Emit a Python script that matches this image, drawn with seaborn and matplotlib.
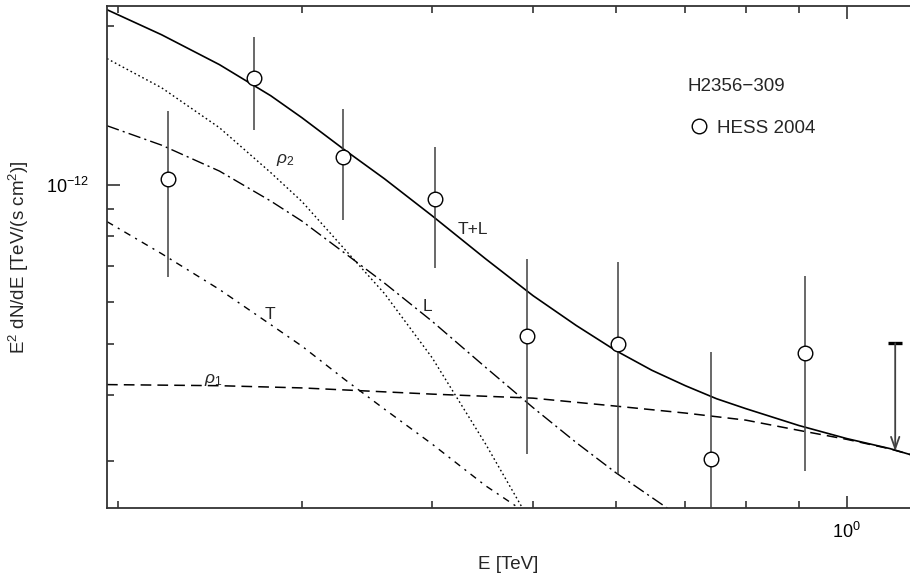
import numpy as np
import matplotlib
matplotlib.use("Agg")
import matplotlib.pyplot as plt
import seaborn as sns
from matplotlib.ticker import NullFormatter, LogLocator
from matplotlib.lines import Line2D

# HESS 2004 data, flux in units of 1e-12 TeV/(s cm^2)
hess_energy = [0.2230, 0.2699, 0.3288, 0.4029, 0.4938, 0.6036, 0.7414, 0.9114]
hess_flux = [1.026, 1.593, 1.127, 0.9395, 0.5169, 0.4993, 0.3028, 0.4791]
hess_flux_hi = [1.377, 1.905, 1.391, 1.177, 0.7233, 0.7140, 0.4821, 0.6706]
hess_flux_lo = [0.6675, 1.271, 0.858, 0.6955, 0.3094, 0.2832, 0.20, 0.2873]

# upper limit
ul_energy = [1.113]
ul_flux = [0.5006]
ul_tip = [0.3126]

# model curves
total_energy = [0.195, 0.22, 0.25, 0.28, 0.30, 0.33, 0.36, 0.40, 0.45, 0.50,
                0.55, 0.60, 0.65, 0.70, 0.75, 0.80, 0.90, 1.00, 1.10, 1.15]
total_flux = [2.145, 1.923, 1.688, 1.474, 1.339, 1.162, 1.026, 0.873, 0.724, 0.616,
              0.541, 0.485, 0.445, 0.416, 0.393, 0.3764, 0.3496, 0.3303, 0.3162, 0.3081]

rho1_energy = [0.195, 0.25, 0.30, 0.40, 0.50, 0.60, 0.70, 0.80, 0.90, 1.00, 1.10, 1.15]
rho1_flux = [0.418, 0.416, 0.412, 0.401, 0.394, 0.3806, 0.3692, 0.358, 0.3423, 0.3292, 0.3159, 0.3081]

rho2_energy = [0.195, 0.22, 0.25, 0.28, 0.30, 0.33, 0.36, 0.40, 0.45, 0.50]
rho2_flux = [1.733, 1.526, 1.282, 1.054, 0.929, 0.753, 0.622, 0.470, 0.323, 0.225]

L_energy = [0.195, 0.22, 0.25, 0.28, 0.30, 0.33, 0.36, 0.40, 0.45, 0.50, 0.55, 0.60, 0.70]
L_flux = [1.293, 1.188, 1.061, 0.931, 0.853, 0.741, 0.651, 0.551, 0.451, 0.378, 0.3246, 0.2848, 0.231]

T_energy = [0.195, 0.22, 0.25, 0.28, 0.30, 0.33, 0.36, 0.40, 0.45, 0.50]
T_flux = [0.851, 0.740, 0.633, 0.543, 0.4944, 0.427, 0.3756, 0.3225, 0.269, 0.234]

# curve labels: text, energy, flux
curve_labels = [
    (r'$\rho_2$', 0.289, 1.115),
    ('T+L', 0.438, 0.822),
    ('L', 0.396, 0.587),
    ('T', 0.2797, 0.567),
    (r'$\rho_1$', 0.2465, 0.427),
]

scale = 1e-12

sns.set_theme(style="ticks")
plt.rcParams['font.family'] = ['Liberation Sans', 'DejaVu Sans']
plt.rcParams['mathtext.fontset'] = 'custom'
plt.rcParams['mathtext.rm'] = 'Liberation Sans'
plt.rcParams['mathtext.it'] = 'Liberation Sans:italic'
plt.rcParams['mathtext.bf'] = 'Liberation Sans:bold'

fig = plt.figure(figsize=(9.1, 5.75), dpi=100)
ax = fig.add_axes([107 / 910, 67 / 575, 803 / 910, 502 / 575])
ax.set_xscale('log')
ax.set_yscale('log')

curves = [
    (total_energy, total_flux, '-', 1.2),
    (rho1_energy, rho1_flux, (0, (7, 4)), 1.1),
    (rho2_energy, rho2_flux, (0, (1.2, 2)), 1.0),
    (L_energy, L_flux, (0, (9, 3, 1.5, 3)), 1.0),
    (T_energy, T_flux, (0, (5, 4, 1.5, 4)), 1.0),
]
for xs, ys, ls, lw in curves:
    sns.lineplot(x=xs, y=np.array(ys) * scale, ax=ax, color='black',
                 linestyle=ls, linewidth=lw, sort=False, estimator=None)

flux = np.array(hess_flux)
yerr = [(flux - np.array(hess_flux_lo)) * scale, (np.array(hess_flux_hi) - flux) * scale]
ax.errorbar(hess_energy, flux * scale, yerr=yerr, fmt='o', ms=10.5, mfc='white',
            mec='black', mew=1.0, ecolor='#404040', elinewidth=1.1, capsize=0, zorder=5)

# upper limit
ax.annotate('', xy=(ul_energy[0], ul_tip[0] * scale), xytext=(ul_energy[0], ul_flux[0] * scale),
            arrowprops=dict(arrowstyle='->,head_length=0.7,head_width=0.25', color='#404040',
                            lw=1.3, shrinkA=0, shrinkB=0))
ax.plot(ul_energy, np.array(ul_flux) * scale, marker='_', ms=10, mew=2.4, color='black', ls='none')

for txt, ex, fx in curve_labels:
    ax.text(ex, fx * scale, txt, ha='center', va='center', fontsize=12.5)

handle = Line2D([], [], marker='o', ls='none', ms=10.5, mfc='white', mec='black', mew=1.0)
leg = ax.legend(handles=[handle], labels=['HESS 2004'], title='H2356\u2212309', alignment='left',
                frameon=False, loc='upper left', bbox_to_anchor=(0.7235, 0.856),
                fontsize=13.5, title_fontsize=13.5, borderpad=0, borderaxespad=0,
                handlelength=1.15, handletextpad=0.4, labelspacing=1.3)

ax.set_xticks([1.0])
ax.set_yticks([1e-12])
ax.xaxis.set_minor_locator(LogLocator(base=10, subs=np.arange(2, 10)))
ax.yaxis.set_minor_locator(LogLocator(base=10, subs=np.arange(2, 10)))
ax.xaxis.set_minor_formatter(NullFormatter())
ax.yaxis.set_minor_formatter(NullFormatter())
ax.set_xlim(0.195, 1.15)
ax.set_ylim(2.44e-13, 2.18e-12)

ax.tick_params(which='both', direction='in', top=True, right=False, color='#333333', width=1.2,
               labelsize=13, labelcolor='black')
ax.tick_params(which='major', length=9)
ax.tick_params(which='minor', length=5)
ax.tick_params(axis='y', which='major', pad=13)
ax.tick_params(axis='x', which='major', pad=10)

for side in ['left', 'bottom', 'top']:
    ax.spines[side].set_color('#333333')
    ax.spines[side].set_linewidth(1.3)
ax.spines['right'].set_visible(False)

ax.set_xlabel('E [TeV]', fontsize=13.5, labelpad=10)
ax.set_ylabel(r'E$^2$ dN/dE [TeV/(s cm$^2$)]', fontsize=13.5)
ax.yaxis.set_label_coords(-0.0946, 0.5)

fig.savefig('out.png', dpi=100)
plt.close(fig)
